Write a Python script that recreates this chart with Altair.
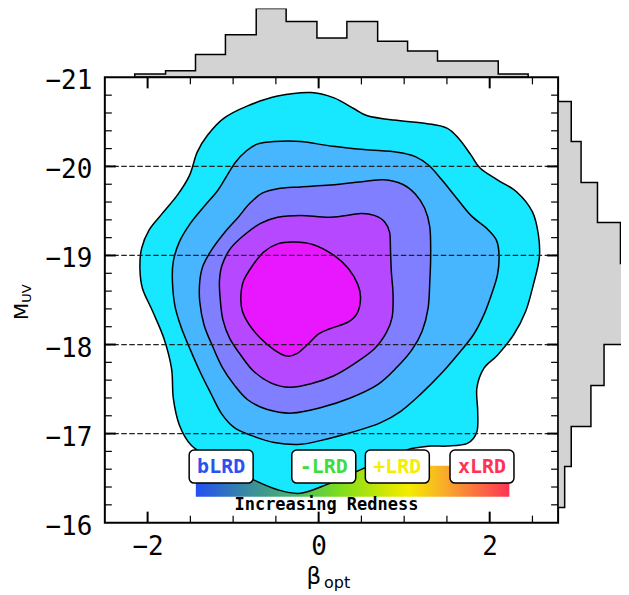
import altair as alt
import pandas as pd

# ---------------- values ----------------
TOP_EDGES = [-2.15, -1.79, -1.44, -1.09, -0.73, -0.38, -0.02, 0.33, 0.69, 1.04, 1.39, 1.74, 2.10, 2.45]
TOP_COUNTS = [1, 2, 7, 13, 21, 17, 12, 17, 11, 8, 5, 5, 1]

RIGHT_EDGES = [-20.73, -20.28, -19.82, -19.37, -18.91, -18.45, -18.00, -17.54, -17.08, -16.63, -16.17]
RIGHT_COUNTS = [4, 7, 12, 19, 23, 24, 14, 10, 4, 2]

CYAN = [(-0.09, -20.83), (0.18, -20.77), (0.41, -20.65), (0.57, -20.57), (0.88, -20.52), (1.27, -20.48),
        (1.50, -20.43), (1.64, -20.31), (1.78, -20.13), (1.89, -19.98), (2.09, -19.85), (2.32, -19.71),
        (2.50, -19.49), (2.57, -19.23), (2.58, -18.97), (2.51, -18.67), (2.42, -18.37), (2.28, -18.11),
        (2.09, -17.88), (1.93, -17.73), (1.85, -17.51), (1.86, -17.25), (1.85, -17.02), (1.74, -16.89),
        (1.50, -16.86), (1.31, -16.86), (1.04, -16.82), (0.72, -16.69), (0.41, -16.56), (0.10, -16.43),
        (-0.21, -16.33), (-0.48, -16.37), (-0.76, -16.48), (-0.99, -16.59), (-1.26, -16.73), (-1.49, -16.87),
        (-1.63, -17.10), (-1.70, -17.40), (-1.72, -17.73), (-1.81, -18.07), (-1.94, -18.37), (-2.06, -18.63),
        (-2.09, -18.86), (-2.07, -19.08), (-1.98, -19.29), (-1.83, -19.47), (-1.65, -19.68), (-1.51, -19.90),
        (-1.42, -20.16), (-1.30, -20.35), (-1.11, -20.54), (-0.83, -20.68), (-0.48, -20.79)]

BLUE = [(-0.52, -20.28), (-0.21, -20.28), (0.14, -20.23), (0.53, -20.19), (0.92, -20.16), (1.13, -20.11),
        (1.29, -20.01), (1.44, -19.85), (1.60, -19.66), (1.78, -19.45), (1.97, -19.30), (2.08, -19.17),
        (2.11, -18.99), (2.09, -18.78), (2.02, -18.56), (1.93, -18.33), (1.81, -18.11), (1.62, -17.88),
        (1.42, -17.66), (1.19, -17.44), (0.96, -17.25), (0.72, -17.12), (0.41, -17.02), (0.10, -16.94),
        (-0.21, -16.88), (-0.52, -16.90), (-0.79, -16.98), (-0.99, -17.07), (-1.14, -17.23), (-1.26, -17.45),
        (-1.38, -17.68), (-1.50, -17.94), (-1.61, -18.20), (-1.68, -18.43), (-1.71, -18.71), (-1.70, -18.93),
        (-1.63, -19.15), (-1.50, -19.36), (-1.34, -19.55), (-1.18, -19.73), (-1.07, -19.90), (-0.97, -20.05),
        (-0.85, -20.17), (-0.72, -20.25)]

PERIWINKLE = [(-0.48, -19.75), (-0.21, -19.77), (0.14, -19.79), (0.53, -19.83), (0.76, -19.85), (0.98, -19.80),
              (1.13, -19.69), (1.24, -19.53), (1.30, -19.32), (1.31, -19.00), (1.30, -18.71), (1.28, -18.41),
              (1.21, -18.15), (1.09, -17.94), (0.92, -17.75), (0.69, -17.55), (0.37, -17.40), (0.02, -17.29),
              (-0.31, -17.23), (-0.60, -17.27), (-0.83, -17.38), (-0.99, -17.55), (-1.13, -17.75), (-1.24, -17.98),
              (-1.34, -18.22), (-1.39, -18.48), (-1.39, -18.71), (-1.35, -18.89), (-1.24, -19.08), (-1.09, -19.27),
              (-0.94, -19.43), (-0.81, -19.58), (-0.66, -19.70)]

PURPLE = [(-0.48, -19.43), (-0.21, -19.45), (0.14, -19.43), (0.49, -19.47), (0.65, -19.45), (0.77, -19.38),
          (0.83, -19.26), (0.84, -19.06), (0.85, -18.82), (0.87, -18.56), (0.86, -18.31), (0.79, -18.13),
          (0.65, -17.95), (0.41, -17.78), (0.18, -17.65), (-0.09, -17.56), (-0.34, -17.52), (-0.56, -17.57),
          (-0.76, -17.70), (-0.91, -17.88), (-1.04, -18.07), (-1.12, -18.28), (-1.15, -18.50), (-1.16, -18.71),
          (-1.13, -18.89), (-1.03, -19.08), (-0.87, -19.23), (-0.68, -19.36)]

MAGENTA = [(-0.29, -19.15), (-0.06, -19.12), (0.18, -19.00), (0.35, -18.85), (0.46, -18.67), (0.49, -18.52),
           (0.45, -18.35), (0.34, -18.25), (0.14, -18.18), (0.00, -18.12), (-0.13, -18.00), (-0.25, -17.90),
           (-0.37, -17.87), (-0.52, -17.94), (-0.68, -18.07), (-0.81, -18.22), (-0.89, -18.37), (-0.91, -18.53),
           (-0.88, -18.71), (-0.77, -18.89), (-0.64, -19.04), (-0.48, -19.13)]

CONTOURS = [CYAN, BLUE, PERIWINKLE, PURPLE, MAGENTA]
LEVEL_COLORS = ["#17E8FF", "#47B6FF", "#7F7FFF", "#B648FF", "#E817FF"]

DASHED_Y = [-20, -19, -18, -17]

CLASS_LABELS = ["bLRD", "-LRD", "+LRD", "xLRD"]
CLASS_COLORS = ["#2A52F0", "#3EDC3E", "#F5EE00", "#FF3355"]
CLASS_X = [-1.14, 0.06, 0.92, 1.91]

X_MAJOR = [-2, 0, 2]
X_MINOR = [-1.5, -1, -0.5, 0.5, 1, 1.5, 2.5]
Y_MAJOR = [-20, -19, -18, -17]
Y_MINOR = [-20.8, -20.6, -20.4, -20.2, -19.8, -19.6, -19.4, -19.2, -18.8, -18.6, -18.4, -18.2,
           -17.8, -17.6, -17.4, -17.2, -16.8, -16.6, -16.4, -16.2]

# ---------------- layout / style ----------------
W, H = 454, 446
TOP_H, RIGHT_W = 69, 63
PX_PER_COUNT = 3.287
XDOM = [-2.5, 2.8]
YDOM = [-21, -16]
MONO = "DejaVu Sans Mono"
SANS = "DejaVu Sans"

LEG_Y = -16.63
BOX_HW, BOX_HH = 0.374, 0.186
BAR = dict(x0=-1.436, x1=2.23, y0=-16.64, y1=-16.29)
BAR_STOPS = [(0.00, "#2350F2"), (0.17, "#3A8C9E"), (0.32, "#48B86A"), (0.45, "#78DC20"),
             (0.62, "#D8E800"), (0.68, "#F4EC00"), (0.80, "#F8A82C"), (1.00, "#FF3355")]

XS = alt.Scale(domain=XDOM, nice=False, zero=False)
YS = alt.Scale(domain=YDOM, reverse=True, nice=False, zero=False)

XAX = alt.Axis(values=X_MAJOR, format="d", ticks=False, tickSize=0, domain=False, grid=False,
               labelFont=MONO, labelFontSize=26, labelColor="black", labelPadding=11, labelFlush=False)
YAX = alt.Axis(values=[-21, -20, -19, -18, -17, -16], format="d", ticks=False, tickSize=0, domain=False,
               grid=False, labelFont=MONO, labelFontSize=26, labelColor="black", labelPadding=13,
               labelOffset=3.5, labelFlush=False)


def X(f):
    return alt.X(f, type="quantitative", scale=XS, axis=XAX, title="")


def Y(f):
    return alt.Y(f, type="quantitative", scale=YS, axis=YAX, title="")


one = pd.DataFrame({"a": [0]})
layers = []

# colour bar (under the contours)
bar_df = pd.DataFrame([BAR])
grad = alt.LinearGradient(gradient="linear",
                          stops=[alt.GradientStop(offset=o, color=c) for o, c in BAR_STOPS],
                          x1=0, x2=1, y1=0, y2=0)
layers.append(alt.Chart(bar_df).mark_rect(fill=grad).encode(x=X("x0"), x2="x1", y=Y("y0"), y2="y1"))

# filled contours
for pts, col in zip(CONTOURS, LEVEL_COLORS):
    df = pd.DataFrame({"x": [p[0] for p in pts], "y": [p[1] for p in pts], "i": list(range(len(pts)))})
    layers.append(
        alt.Chart(df).mark_line(filled=True, fill=col, stroke="black", strokeWidth=1.5,
                                interpolate="cardinal-closed")
        .encode(x=X("x"), y=Y("y"), order=alt.Order("i:Q"))
    )

# dashed lines
layers.append(alt.Chart(pd.DataFrame({"v": DASHED_Y})).mark_rule(color="#222222", strokeWidth=1.3,
                                                                   strokeDash=[5.5, 2.5]).encode(y=Y("v")))

# legend boxes and labels
box_df = pd.DataFrame({"label": CLASS_LABELS, "x": CLASS_X,
                       "x0": [c - BOX_HW for c in CLASS_X], "x1": [c + BOX_HW for c in CLASS_X],
                       "y": [LEG_Y] * 4, "y0": [LEG_Y - BOX_HH] * 4, "y1": [LEG_Y + BOX_HH] * 4})
layers.append(alt.Chart(box_df).mark_rect(cornerRadius=5, fill="white", stroke="black", strokeWidth=1.5)
              .encode(x=X("x0"), x2="x1", y=Y("y0"), y2="y1"))
layers.append(alt.Chart(box_df).mark_text(font=MONO, fontWeight="bold", fontSize=20, align="center",
                                          baseline="middle")
              .encode(x=X("x"), y=Y("y"), text="label:N",
                      color=alt.Color("label:N", scale=alt.Scale(domain=CLASS_LABELS, range=CLASS_COLORS),
                                      legend=None)))
layers.append(alt.Chart(pd.DataFrame({"x": [0.091], "y": [-16.146], "t": ["Increasing Redness"]}))
              .mark_text(font=MONO, fontWeight="bold", fontSize=17, align="center", baseline="alphabetic",
                         color="black")
              .encode(x=X("x"), y=Y("y"), text="t:N"))


# inward ticks on all four sides
def xticks(vals, y0, y1, sw):
    return alt.Chart(pd.DataFrame({"v": vals})).mark_rule(color="black", strokeWidth=sw).encode(
        x=X("v"), y=alt.value(y0), y2=alt.value(y1))


def yticks(vals, x0, x1, sw):
    return alt.Chart(pd.DataFrame({"v": vals})).mark_rule(color="black", strokeWidth=sw).encode(
        y=Y("v"), x=alt.value(x0), x2=alt.value(x1))


layers += [xticks(X_MAJOR, H, H - 11, 2), xticks(X_MINOR, H, H - 7, 1.2),
           xticks(X_MAJOR, 0, 11, 2), xticks(X_MINOR, 0, 7, 1.2),
           yticks(Y_MAJOR, 0, 11, 2), yticks(Y_MINOR, 0, 7, 1.2),
           yticks(Y_MAJOR, W, W - 11, 2), yticks(Y_MINOR, W, W - 7, 1.2)]

# axis titles with subscripts
layers.append(alt.Chart(one).mark_text(text="M", font=SANS, fontSize=20, angle=270, align="left",
                                       baseline="top", color="black")
              .encode(x=alt.value(-93), y=alt.value(243)))
layers.append(alt.Chart(one).mark_text(text="UV", font=SANS, fontSize=13, angle=270, align="left",
                                       baseline="top", color="black")
              .encode(x=alt.value(-84), y=alt.value(225.7)))
layers.append(alt.Chart(one).mark_text(text="β", font=SANS, fontSize=23, align="left",
                                       baseline="alphabetic", color="black")
              .encode(x=alt.value(202), y=alt.value(507)))
layers.append(alt.Chart(one).mark_text(text="opt", font=SANS, fontSize=16, align="left",
                                       baseline="alphabetic", color="black")
              .encode(x=alt.value(219.5), y=alt.value(511)))
# invisible anchor fixing the left edge of the layout
layers.append(alt.Chart(one).mark_rule(opacity=0).encode(x=alt.value(-96), y=alt.value(200), y2=alt.value(210)))

main = alt.layer(*layers).properties(width=W, height=H,
                                     view=alt.ViewBackground(stroke="black", strokeWidth=2))

# marginal histograms
top_df = pd.DataFrame({"e": TOP_EDGES, "c": TOP_COUNTS + [TOP_COUNTS[-1]]})
top = alt.Chart(top_df).mark_area(interpolate="step-after", fill="#D3D3D3", fillOpacity=1, stroke="black",
                                  strokeWidth=1.5, clip=True).encode(
    x=alt.X("e:Q", scale=XS, axis=None),
    y=alt.Y("c:Q", scale=alt.Scale(domain=[0, TOP_H / PX_PER_COUNT], nice=False), axis=None),
).properties(width=W, height=TOP_H)

right_df = pd.DataFrame({"e": RIGHT_EDGES, "c": RIGHT_COUNTS + [RIGHT_COUNTS[-1]]})
right = alt.Chart(right_df).mark_area(orient="horizontal", interpolate="step-before", fill="#D3D3D3",
                                      fillOpacity=1, stroke="black", strokeWidth=1.5, clip=True).encode(
    y=alt.Y("e:Q", scale=YS, axis=None),
    x=alt.X("c:Q", scale=alt.Scale(domain=[0, RIGHT_W / PX_PER_COUNT], nice=False), axis=None),
).properties(width=RIGHT_W, height=H)

lower = alt.hconcat(main, right, spacing=0, bounds="flush")
chart = alt.vconcat(top, lower, spacing=0, bounds="flush").properties(padding=0).configure_view(strokeWidth=0)

chart.save("out.html", embed_options={"renderer": "svg", "actions": False})
